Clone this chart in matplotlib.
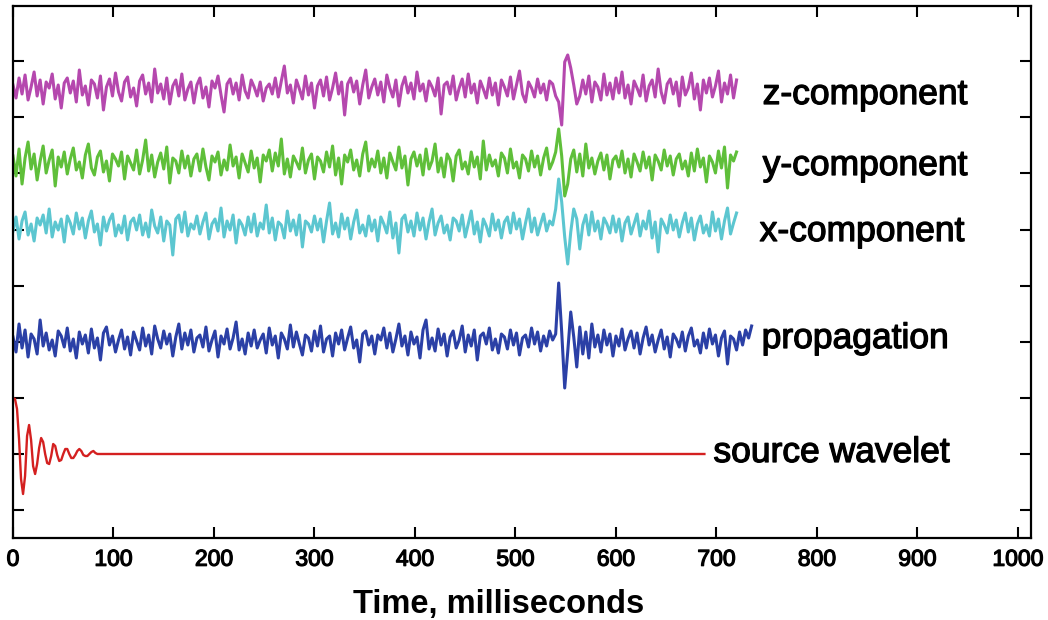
import numpy as np
import matplotlib
matplotlib.use('Agg')
import matplotlib.pyplot as plt
import matplotlib.patheffects as pe

# sample interval of the recorded traces (ms)
dt = 3

# trace amplitudes, one sample every 3 ms
z_comp = [5, -8, 12, -4, 15, -10, 3, 18, -6, 10, -14, 8, 2, 16, -9, 5, -18, 7, 12, -3,
          9, -12, 20, -5, 4, -15, 10, 6, -8, 14, -20, 3, 11, -6, 17, -2, -11, 8, 13, -7,
          2, -16, 9, 15, -4, 7, -12, 21, -3, 6, -9, 12, -14, 4, 10, -6, 16, -10, 1, 8,
          -13, 5, 12, -8, 3, -17, 9, 2, 14, -5, -22, 6, 11, -4, 7, -10, 15, -1, -8, 10,
          3, -6, 8, -11, 2, 6, -4, 12, -7, 9, 24, -3, 5, -13, 10, 1, -9, 14, -5, 7,
          -18, 4, 10, -6, 13, -10, 2, 17, -4, 8, -25, 6, 12, -2, 9, -14, 5, 20, -8, 3,
          11, -5, 8, -12, 15, 2, -7, 10, -16, 4, 13, -3, 7, -9, 18, -1, 6, -11, 9, 3,
          -6, 12, -24, 5, 8, -4, 14, -10, 2, 11, -7, 16, -3, 6, -13, 9, 1, -8, 12, -5,
          7, -15, 10, 3, -6, 13, -9, 5, 19, -4, -12, 8, 2, -7, 11, -3, 6, -10, 9, 6,
          -6, -12, -35, 28, 35, 22, 5, -14, -6, 10, -4, 14, -12, 8, 3, -10, 16, -5, 7, -9,
          12, -3, 18, -8, 5, -14, 9, 2, -6, 15, -11, 4, 10, -7, 21, -2, -13, 6, 11, -4,
          8, -16, 13, -5, 2, 17, -9, 6, -20, 10, -3, 12, -7, 4, 19, -12, 7, -4, 15, -8,
          10]
y_comp = [8, -12, 15, -20, 6, 22, -5, 10, -16, 3, 18, -9, 4, 14, -22, 7, -3, 12, -10, 5,
          16, -6, 2, -14, 9, 20, -4, -11, 7, 13, -8, 3, -17, 10, 5, -2, 12, -15, 8, 1,
          -6, 14, -10, 4, 24, -7, 9, -13, 2, 11, -5, 17, -19, 6, 3, -9, 13, -4, 8, -12,
          5, 10, -7, 15, -3, -16, 8, 2, 12, -11, 4, -6, 19, -2, 7, -14, 10, 1, -8, 13,
          -4, 6, -18, 9, 3, 14, -7, 11, -2, 25, -10, 5, -13, 8, 2, -5, 16, -9, 4, 10,
          -15, 7, 3, -8, 12, -3, 18, -11, 6, -20, 9, 2, 14, -6, 4, -12, 10, 22, -7, 5,
          -3, 13, -9, 6, -14, 11, 2, -6, 17, -4, 8, -21, 5, 12, -2, 9, -11, 15, -5, 3,
          20, -8, 6, -13, 10, 4, -17, 8, 14, -5, 2, -10, 12, -3, 7, -15, 23, -6, 9, -2,
          4, -12, 11, 6, -9, 15, -4, 2, -14, 9, 5, -7, 13, -3, 8, -11, 6, 16, -5, 2,
          12, 35, 8, -32, -20, 5, 14, -8, 10, -12, 20, -4, 6, -10, 3, 11, -6, 9, -15, 4,
          8, -3, 13, -9, 5, -13, 10, 2, -7, 12, -4, 7, -16, 9, 3, -6, 14, -2, 8, -11,
          5, 10, -5, 3, -12, 11, -7, 15, -3, 6, -18, 8, 2, -9, 13, -4, 17, -24, 9, 3,
          12]
x_comp = [-4, 10, -12, 6, 15, -8, 3, -14, 9, 2, 12, -6, 18, -10, 5, -3, 8, -15, 11, 4,
          -7, 14, -2, 9, -11, 6, 16, -5, 3, -18, 10, -4, 7, 13, -9, 2, -6, 11, -13, 5,
          9, -3, 12, -8, 4, -10, 17, 1, -6, 10, -14, 6, 2, -28, 8, 12, -5, 15, -9, 3,
          -2, 11, -7, 5, 14, -12, 3, 8, -4, 19, -10, 6, -3, 12, -16, 7, 2, -8, 10, -5,
          13, -9, 4, -2, 22, -6, 9, -13, 5, 2, -11, 16, -4, 7, -8, 12, -20, 6, 3, -5,
          11, -3, 8, -15, 6, 24, -7, 4, -10, 13, -2, 9, -12, 5, 17, -6, 2, -9, 11, -4,
          7, -14, 10, 3, -6, 15, -11, 4, -26, 8, 12, -5, 6, -9, 14, -3, 9, -12, 5, 18,
          -8, 4, 11, -6, 2, -13, 9, 6, -4, 12, -10, 3, 16, -7, 5, -15, 8, 1, -9, 13,
          -3, 7, -11, 5, 10, -6, 14, -2, 8, -12, 4, 18, -5, 9, -8, 3, 13, -4, 6, 2,
          18, 48, 25, -10, -37, -5, 18, 8, -22, 2, 12, -8, 15, -4, 6, -12, 9, 3, -6, 11,
          -5, 8, -14, 4, 10, -7, 3, 13, -9, 6, -2, 16, -11, 5, -25, 8, 2, -6, 12, -3,
          7, -10, 4, 14, -5, 9, -13, 3, 11, -6, 2, -9, 15, -4, 8, -12, 6, 19, -7, 4,
          14]
propagation = [5, -10, 18, -6, 12, -15, 8, 3, -12, 22, -4, 9, -8, 2, -14, 11, 6, -5, 14, -9,
               3, -16, 10, -2, 7, -11, 13, -6, 4, -18, 9, 15, -3, 6, -10, 2, 12, -7, 5, -13,
               10, 1, -8, 14, -4, 7, -12, 16, 3, -6, 11, -2, 8, -14, 5, 18, -7, 9, -3, 12,
               -10, 4, 7, -5, 15, -9, 2, 11, -15, 6, -2, 13, -7, 4, 20, -8, 3, -12, 9, -4,
               12, -6, 2, 8, -11, 14, -3, 6, -16, 9, 3, -7, 17, -5, 10, -2, -13, 7, 4, -9,
               11, -4, 16, -10, 3, 6, -14, 9, -2, 12, -8, 4, 15, -6, 2, -20, 8, 11, -3, 6,
               -12, 7, 2, 14, -6, 9, -10, 3, 18, -4, 6, -13, 10, -2, 5, -16, 12, 22, -7, 4,
               -9, 13, -3, 8, -14, 5, 11, -6, 2, 16, -10, 7, -4, 12, -18, 6, 9, -2, 14, -8,
               3, -11, 8, 5, -7, 12, -3, 9, -13, 4, 7, -5, 14, -2, 10, -9, 6, -4, 11, 2,
               8, 59, 10, -46, -10, 30, 5, -25, 15, -12, 10, -16, 18, -5, 7, -10, 12, -3, 8, -14,
               6, -4, 13, -8, 3, 11, -6, 9, -12, 4, 15, -3, 7, -10, 2, 12, -7, 5, -15, 8,
               3, -5, 10, -9, 6, 14, -4, 2, -11, 9, -6, 13, -2, 7, -14, 4, 11, -22, 6, 3,
               -8, 10, -3, 12, 4, 16]

# source wavelet: 2 ms samples over the ringing part, then flat to the end
wavelet_amp = [56, 55, 45, 15, -25, -40, -22, 18, 29, 14, -12, -20, -10, 6, 16, 12, 0, -9, -10, -2,
               10, 8, -1, -7, -6, 0, 5, 5, 0, -4, -4, -1, 3, 5, 3, -1, -2, -2, 0, 2,
               3, 1, 0, 0]
wavelet_end_ms = 688

labels = ['z-component', 'y-component', 'x-component', 'propagation', 'source wavelet']

# Construct figure
fig = plt.figure(figsize=(10.48, 6.2), dpi=100)
ax = fig.add_axes([13 / 1048, 82 / 620, 1018 / 1048, 532 / 620])

spacing = 56.1
traces = [(z_comp, 420, '#b548ae'), (y_comp, 346, '#5fbf3a'),
          (x_comp, 283, '#5cc6d0'), (propagation, 168, '#2b40a6')]
for vals, base, col in traces:
    t = np.arange(len(vals)) * dt
    ax.plot(t, base + np.array(vals), color=col, lw=2.2)

wt = list(np.arange(len(wavelet_amp)) * 2) + [wavelet_end_ms]
wa = wavelet_amp + [0]
ax.plot(wt, 56 + np.array(wa), color='#d42020', lw=1.7)

# a thin outline makes the text a bit heavier, like the scanned original
heavy = [pe.withStroke(linewidth=0.9, foreground='black')]

# labels to the right of the traces
label_pos = [(746, 406), (746, 335), (743, 269), (745, 162), (697, 48)]
for txt, (lx, ly) in zip(labels, label_pos):
    ax.text(lx, ly, txt, fontsize=25.5, family='Liberation Sans', va='baseline', ha='left',
            path_effects=heavy)

# Set graph format
ax.set_xlim(0, 1013)
ax.set_ylim(-28, 504)
ax.set_xticks(np.arange(0, 1001, 100))
ax.set_yticks(np.arange(9) * spacing)
ax.set_yticklabels([])
ax.tick_params(direction='in', length=8, width=1.5, top=True, right=True, labelsize=16.5, pad=7)
for lab in ax.get_xticklabels():
    lab.set_family('Liberation Sans')
    lab.set_path_effects(heavy)
for s in ax.spines.values():
    s.set_linewidth(1.6)
ax.set_xlabel('Time, milliseconds', fontsize=23.5, fontweight='bold', family='Liberation Sans')
ax.xaxis.set_label_coords(0.477, -0.095)

# Save figure
plt.savefig('out.png', dpi=100)
